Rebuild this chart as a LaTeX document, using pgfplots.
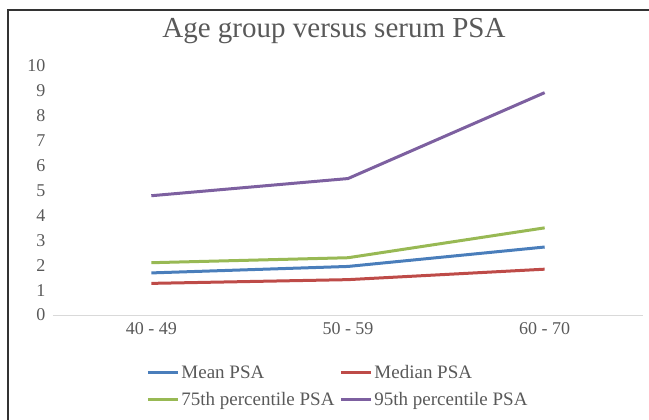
\documentclass[border=0pt]{standalone}
\usepackage{pgfplots}
\pgfplotsset{compat=1.18}
\usepackage{fontspec}
\setmainfont{Liberation Serif}
\definecolor{cblue}{HTML}{4A7EBB}
\definecolor{cred}{HTML}{BE4B48}
\definecolor{cgreen}{HTML}{98B954}
\definecolor{cpurple}{HTML}{7D60A0}
\definecolor{txt}{HTML}{595959}
\begin{document}
\begin{tikzpicture}
\useasboundingbox (-53bp,-105bp) rectangle (596bp,315bp);
\draw[line width=1.2bp, black!80] (-45bp,-105bp) -- (-45bp,305bp) -- (596bp,305bp);
\begin{axis}[
  at={(0bp,0bp)}, anchor=south west,
  scale only axis, width=590bp, height=249bp,
  xmin=-0.5, xmax=2.5, ymin=0, ymax=10,
  xtick={0,1,2}, xticklabels={40 - 49, 50 - 59, 60 - 70},
  ytick={0,1,...,10},
  axis x line*=bottom, axis y line*=left,
  x axis line style={draw=black!15, line width=0.8bp, -},
  y axis line style={draw=none},
  major tick length=0pt,
  /pgf/number format/assume math mode=true,
  ticklabel style={font=\fontsize{18bp}{20bp}\selectfont, text=txt},
  yticklabel style={xshift=-4bp},
  xticklabel style={yshift=-4bp},
  legend columns=2,
  legend cell align=left,
  legend style={draw=none, fill=none, at={(0.153,-0.185)}, anchor=north west,
    font=\fontsize{19bp}{21bp}\selectfont, text=txt,
    /tikz/every even column/.append style={column sep=3bp},
    row sep=8bp},
  legend image code/.code={\draw[#1, line width=3bp] (0bp,0bp) -- (30bp,0bp);},
  every axis plot/.append style={line width=3bp},
]
\addplot[cblue] coordinates {(0,1.69) (1,1.95) (2,2.73)};
\addlegendentry{Mean PSA}
\addplot[cred] coordinates {(0,1.27) (1,1.42) (2,1.84)};
\addlegendentry{Median PSA}
\addplot[cgreen] coordinates {(0,2.10) (1,2.30) (2,3.50)};
\addlegendentry{75th percentile PSA}
\addplot[cpurple] coordinates {(0,4.79) (1,5.48) (2,8.93)};
\addlegendentry{95th percentile PSA}
\end{axis}
\node[text=txt, font=\fontsize{29bp}{32bp}\selectfont] at (281bp,284bp) {Age group versus serum PSA};
\end{tikzpicture}
\end{document}
